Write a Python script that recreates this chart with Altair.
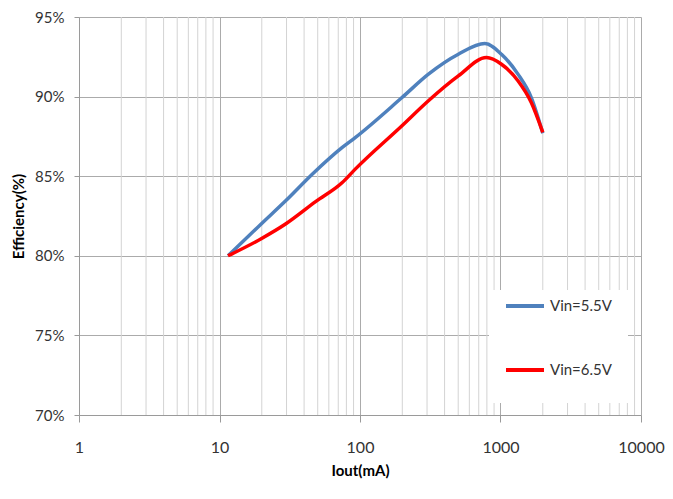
import altair as alt
import pandas as pd

# Iout (mA) and efficiency (%)
iout_55 = [11.5, 19.8, 29.7, 45.9, 74.8, 92.9, 199, 307, 501, 774, 1016, 1331, 1656, 2000]
eff_55 = [80.0, 82.0, 83.47, 85.14, 86.81, 87.44, 89.94, 91.41, 92.66, 93.33, 92.66, 91.41, 89.94, 87.7]

iout_65 = [11.5, 19.8, 29.7, 48.3, 74.8, 92.9, 199, 307, 501, 795, 1016, 1331, 1656, 2000]
eff_65 = [80.0, 81.07, 82.01, 83.4, 84.6, 85.46, 88.17, 89.74, 91.3, 92.45, 92.03, 91.0, 89.63, 87.75]

series = ["Vin=5.5V", "Vin=6.5V"]
colors = ["#4F81BD", "#FF0000"]

x_major = [1, 10, 100, 1000, 10000]
x_minor = [m * d for d in [1, 10, 100, 1000] for m in range(2, 10)]
y_ticks = [70, 75, 80, 85, 90, 95]

df = pd.concat([
    pd.DataFrame({"Iout": iout_55, "Eff": eff_55, "Series": series[0]}),
    pd.DataFrame({"Iout": iout_65, "Eff": eff_65, "Series": series[1]}),
])

FONT = "Lato"

xscale = alt.Scale(type="log", domain=[1, 10000], nice=False)
yscale = alt.Scale(domain=[70, 95], nice=False, zero=False)

xaxis = alt.Axis(
    title="Iout(mA)", values=x_major, format="d", grid=True,
    gridColor="#ababab", gridWidth=1, domainColor="#9a9a9a",
    tickColor="#9a9a9a", tickSize=7, labelPadding=17,
    labelFontSize=16, labelColor="#333333", labelFont=FONT,
    titleFont=FONT, titleFontSize=15, titleFontWeight="bold",
    titleColor="#000000", titlePadding=8, labelFlush=False,
)

minor = alt.Chart(pd.DataFrame({"v": x_minor})).mark_rule(
    color="#d3d3d3", strokeWidth=1
).encode(x=alt.X("v:Q", scale=xscale, axis=xaxis))

legend_bg = alt.Chart(pd.DataFrame({"a": [0]})).mark_rect(
    color="white"
).encode(
    x=alt.value(410), x2=alt.value(549), y=alt.value(273), y2=alt.value(386)
)

lines = alt.Chart(df).mark_line(strokeWidth=3.5, interpolate="monotone").encode(
    x=alt.X("Iout:Q", scale=xscale, axis=xaxis),
    y=alt.Y(
        "Eff:Q", scale=yscale,
        axis=alt.Axis(
            title="Efficiency(%)", values=y_ticks, labelExpr="datum.value + '%'",
            grid=True, gridColor="#ababab", gridWidth=1, domainColor="#9a9a9a",
            tickColor="#9a9a9a", tickSize=5, labelPadding=10,
            labelFontSize=15, labelColor="#333333", labelFont=FONT,
            titleFont=FONT, titleFontSize=15, titleFontWeight="bold",
            titleColor="#000000", titlePadding=8,
        ),
    ),
    color=alt.Color(
        "Series:N",
        scale=alt.Scale(domain=series, range=colors),
        legend=alt.Legend(
            title=None, orient="none", legendX=425, legendY=268,
            symbolType="stroke", symbolStrokeWidth=4, symbolSize=1444,
            labelFont=FONT, labelFontSize=15, labelColor="#333333",
            labelOffset=4, rowPadding=35,
        ),
    ),
)

chart = alt.layer(minor, legend_bg, lines).properties(
    width=562, height=398,
    autosize=alt.AutoSizeParams(type="none"),
    padding={"left": 71, "top": 9, "right": 24, "bottom": 76},
).configure_view(stroke=None).configure_axis(domainWidth=1)

chart.save("out.html", embed_options={"renderer": "svg", "actions": False})
